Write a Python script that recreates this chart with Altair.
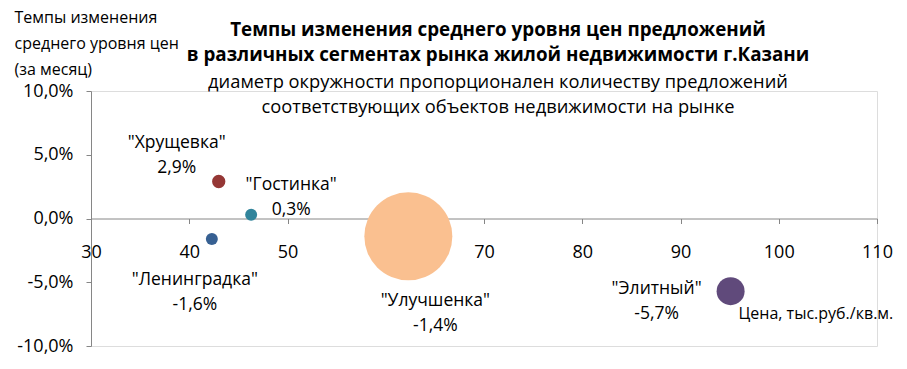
import altair as alt
import pandas as pd

# ---- data ----
categories = ['"Хрущевка"', '"Гостинка"', '"Ленинградка"', '"Улучшенка"', '"Элитный"']
price = [43.0, 46.3, 42.3, 62.3, 95.1]          # тыс.руб./кв.м.
change = [2.9, 0.3, -1.6, -1.4, -5.7]           # % за месяц
offers = [177, 144, 144, 7744, 784]             # relative number of offers (bubble size)
colors = ["#953735", "#31849B", "#376092", "#FAC090", "#604A7B"]
x_ticks = [30, 40, 50, 60, 70, 80, 90, 100, 110]
y_ticks = [-10, -5, 0, 5, 10]

title_lines = ["Темпы изменения среднего уровня цен предложений",
               "в различных сегментах рынка жилой недвижимости г.Казани"]
subtitle_lines = ["диаметр окружности пропорционален количеству предложений",
                  "соответствующих объектов недвижимости на рынке"]
y_title = ["Темпы изменения", "среднего уровня цен", "(за месяц)"]
x_title = "Цена, тыс.руб./кв.м."

# label placement (pixel offsets from bubble centre) - style, not data
label_offsets = {
    '"Хрущевка"': (-42, -39),
    '"Гостинка"': (40, -30),
    '"Ленинградка"': (-17, 41),
    '"Улучшенка"': (27, 65),
    '"Элитный"': (-74, -2),
}

FONT = "Open Sans"
LBL = 17.5
TICK = 18

df = pd.DataFrame({"cat": categories, "price": price, "change": change, "offers": offers})
df["label"] = df["cat"] + "\n" + df["change"].map(lambda v: f"{v:.1f}".replace(".", ",") + "%")

xscale = alt.Scale(domain=[30, 110], nice=False, zero=False)
yscale = alt.Scale(domain=[-10, 10], nice=False, zero=False)

x_axis = alt.Axis(
    values=x_ticks, orient="bottom", offset=-127.5, grid=False, format="d",
    tickSize=5, labelPadding=20, labelFontSize=TICK, labelFont=FONT, labelColor="#000000",
    domainColor="#868686", tickColor="#868686", labelFlush=False,
    title=x_title, titleX=647, titleY=95, titleAlign="left", titleBaseline="middle",
    titleFontSize=16, titleFontWeight="normal", titleFont=FONT, titleColor="#000000",
)
y_axis = alt.Axis(
    values=y_ticks, grid=False, tickSize=5, labelPadding=13,
    labelExpr="replace(replace(format(datum.value, '.1f'), '.', ','), '\u2212', '-') + '%'",
    labelFontSize=TICK, labelFont=FONT, labelColor="#000000",
    domainColor="#868686", tickColor="#868686",
    title=y_title, titleAngle=0, titleAlign="left", titleBaseline="top",
    titleX=-77, titleY=-82, titleFontSize=16, titleFontWeight="normal", titleFont=FONT,
    titleColor="#000000", titleLineHeight=26,
)

base = alt.Chart(df)

bubbles = base.mark_circle(opacity=1).encode(
    x=alt.X("price:Q", scale=xscale, axis=x_axis),
    y=alt.Y("change:Q", scale=yscale, axis=y_axis),
    size=alt.Size("offers:Q", scale=alt.Scale(domain=[0, 7744], range=[0, 7744]), legend=None),
    color=alt.Color("cat:N", scale=alt.Scale(domain=categories, range=colors), legend=None),
)

layers = [bubbles]
for cat in categories:
    dx, dy = label_offsets[cat]
    layers.append(
        base.transform_filter(alt.FieldEqualPredicate(field="cat", equal=cat))
        .mark_text(dx=dx, dy=dy, lineBreak="\n", lineHeight=25, fontSize=LBL, font=FONT,
                   color="#000000", align="center", baseline="middle")
        .encode(x=alt.X("price:Q", scale=xscale), y=alt.Y("change:Q", scale=yscale), text="label:N")
    )

title_df = pd.DataFrame({"t": ["\n".join(title_lines)]})
subtitle_df = pd.DataFrame({"t": ["\n".join(subtitle_lines)]})
title_mark = alt.Chart(title_df).mark_text(
    lineBreak="\n", lineHeight=25, fontSize=18.8, fontWeight="bold", font=FONT,
    color="#000000", align="center", baseline="middle",
).encode(x=alt.value(407), y=alt.value(-61), text="t:N")
subtitle_mark = alt.Chart(subtitle_df).mark_text(
    lineBreak="\n", lineHeight=25, fontSize=18.3, font=FONT,
    color="#000000", align="center", baseline="middle",
).encode(x=alt.value(407), y=alt.value(-8), text="t:N")
layers += [title_mark, subtitle_mark]

chart = alt.layer(*layers).properties(
    width=786, height=255,
    autosize=alt.AutoSizeParams(type="none"),
    padding={"left": 83, "top": 83, "right": 22, "bottom": 15},
).configure_view(strokeWidth=0).configure(background="white")

chart.save("out.html", embed_options={"renderer": "svg", "actions": False})
